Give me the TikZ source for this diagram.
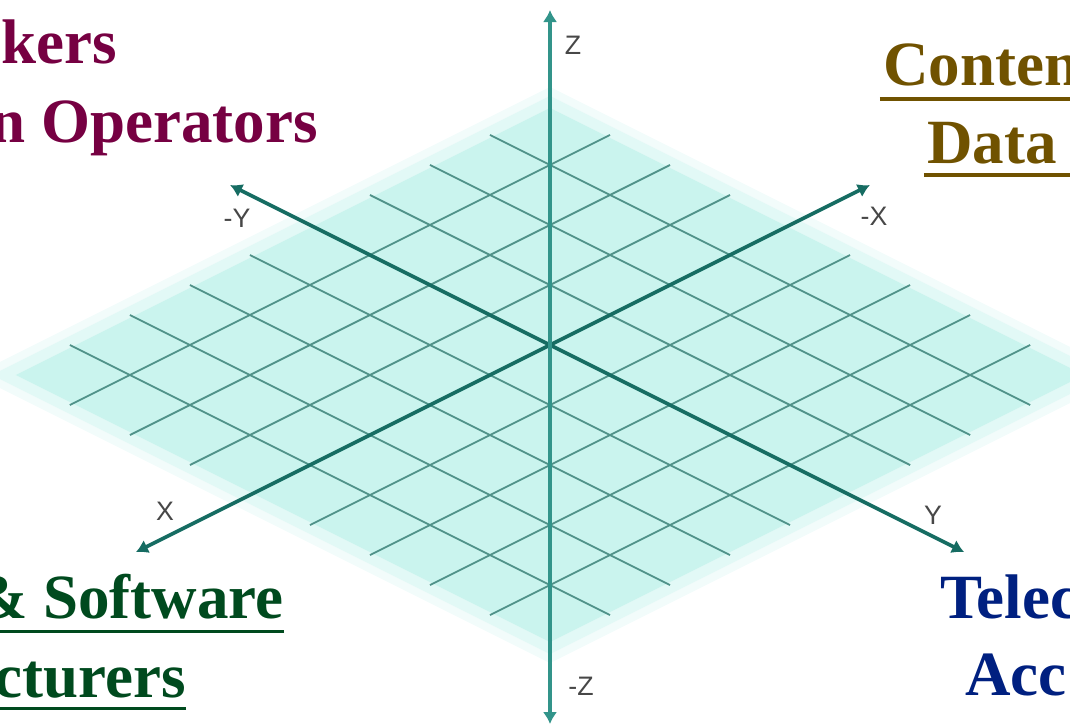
\documentclass[tikz,border=0pt]{standalone}
\usepackage{fontspec}
\setmainfont{Liberation Serif}
\setsansfont{Liberation Sans}
\usetikzlibrary{arrows.meta,positioning,calc}

\definecolor{plane}{RGB}{202,244,238}
\definecolor{gridteal}{RGB}{80,146,137}
\definecolor{axisteal}{RGB}{22,108,98}
\definecolor{zteal}{RGB}{50,148,138}
\definecolor{maroon}{RGB}{118,0,66}
\definecolor{ochre}{RGB}{112,82,0}
\definecolor{leaf}{RGB}{0,74,30}
\definecolor{navy}{RGB}{0,32,128}

\begin{document}
\begin{tikzpicture}[
  x=0.025cm, y=-0.025cm,
  >={Latex[length=0.3cm,width=0.36cm]},
  gridline/.style={gridteal, line width=1.3pt},
  axis/.style={<->, axisteal, line width=2.6pt},
  zaxis/.style={axis, zteal, line width=3pt},
  axislabel/.style={font=\sffamily\fontsize{19}{19}\selectfont, text=black!72, inner sep=0pt},
  who/.style={font=\bfseries\fontsize{44.8}{50}\selectfont, inner sep=0pt},
  uline/.style={line width=2.2pt}
]
  \useasboundingbox (0,0) rectangle (1070,726);
  \clip (0,0) rectangle (1070,726);

  % Plane and grid (first axis towards X, second towards Y)
  \begin{scope}[shift={(550,345)}, x={(-1.5cm,-0.75cm)}, y={(1.5cm,-0.75cm)}]
    \fill[plane!25] (-4.3,-4.3) -- (5.3,-4.3) -- (5.3,5.3) -- (-4.3,5.3) -- cycle;
    \fill[plane!55] (-4.15,-4.15) -- (5.15,-4.15) -- (5.15,5.15) -- (-4.15,5.15) -- cycle;
    \fill[plane] (-3.95,-3.95) -- (4.95,-3.95) -- (4.95,4.95) -- (-3.95,4.95) -- cycle;
    \foreach \n in {-3,...,4} {
      \draw[gridline] (\n,-4) -- (\n,5);
      \draw[gridline] (-4,\n) -- (5,\n);
    }
    \coordinate (xneg) at (-5.33,0);
    \coordinate (xpos) at (6.9,0);
    \coordinate (yneg) at (0,-5.33);
    \coordinate (ypos) at (0,6.9);
  \end{scope}

  % Axes
  \coordinate (ztop) at (550,10);
  \coordinate (zbot) at (550,724);
  \draw[axis] (xneg) -- (xpos);
  \draw[axis] (yneg) -- (ypos);
  \draw[zaxis] (zbot) -- (ztop);

  \node[axislabel] (zlab) at (573,45) {Z};
  \node[axislabel] (mzlab) at (581,686) {-Z};
  \node[axislabel] (xlab) at (165,511) {X};
  \node[axislabel] (mxlab) at (874,216) {-X};
  \node[axislabel] (mylab) at (237,218) {-Y};
  \node[axislabel] (ylab) at (933,515) {Y};

  % Stakeholders
  \node[who, text=maroon, anchor=base east] (mk) at (117,63) {kers};
  \node[who, text=maroon, anchor=base east] (op) at (318,142) {n Operators};

  \node[who, text=ochre, anchor=base west] (ct) at (883,85) {Conten};
  \node[who, text=ochre, anchor=base west] (dt) at (927,163) {Data};
  \draw[uline, ochre] ([xshift=-0.08cm, yshift=-0.35cm]ct.base west) -- ++(6cm,0);
  \draw[uline, ochre] ([xshift=-0.08cm, yshift=-0.3cm]dt.base west) -- ++(6cm,0);

  \node[who, text=leaf, anchor=base east] (sw) at (284,618) {\& Software};
  \node[who, text=leaf, anchor=base east] (mf) at (186,697) {cturers};
  \draw[uline, leaf] ([yshift=-0.33cm]sw.base east) -- ++(-9cm,0);
  \draw[uline, leaf] ([yshift=-0.28cm]mf.base east) -- ++(-9cm,0);

  \node[who, text=navy, anchor=base west] (tl) at (940,618) {Telec};
  \node[who, text=navy, anchor=base west] (ac) at (965,695) {Acc};
\end{tikzpicture}
\end{document}
